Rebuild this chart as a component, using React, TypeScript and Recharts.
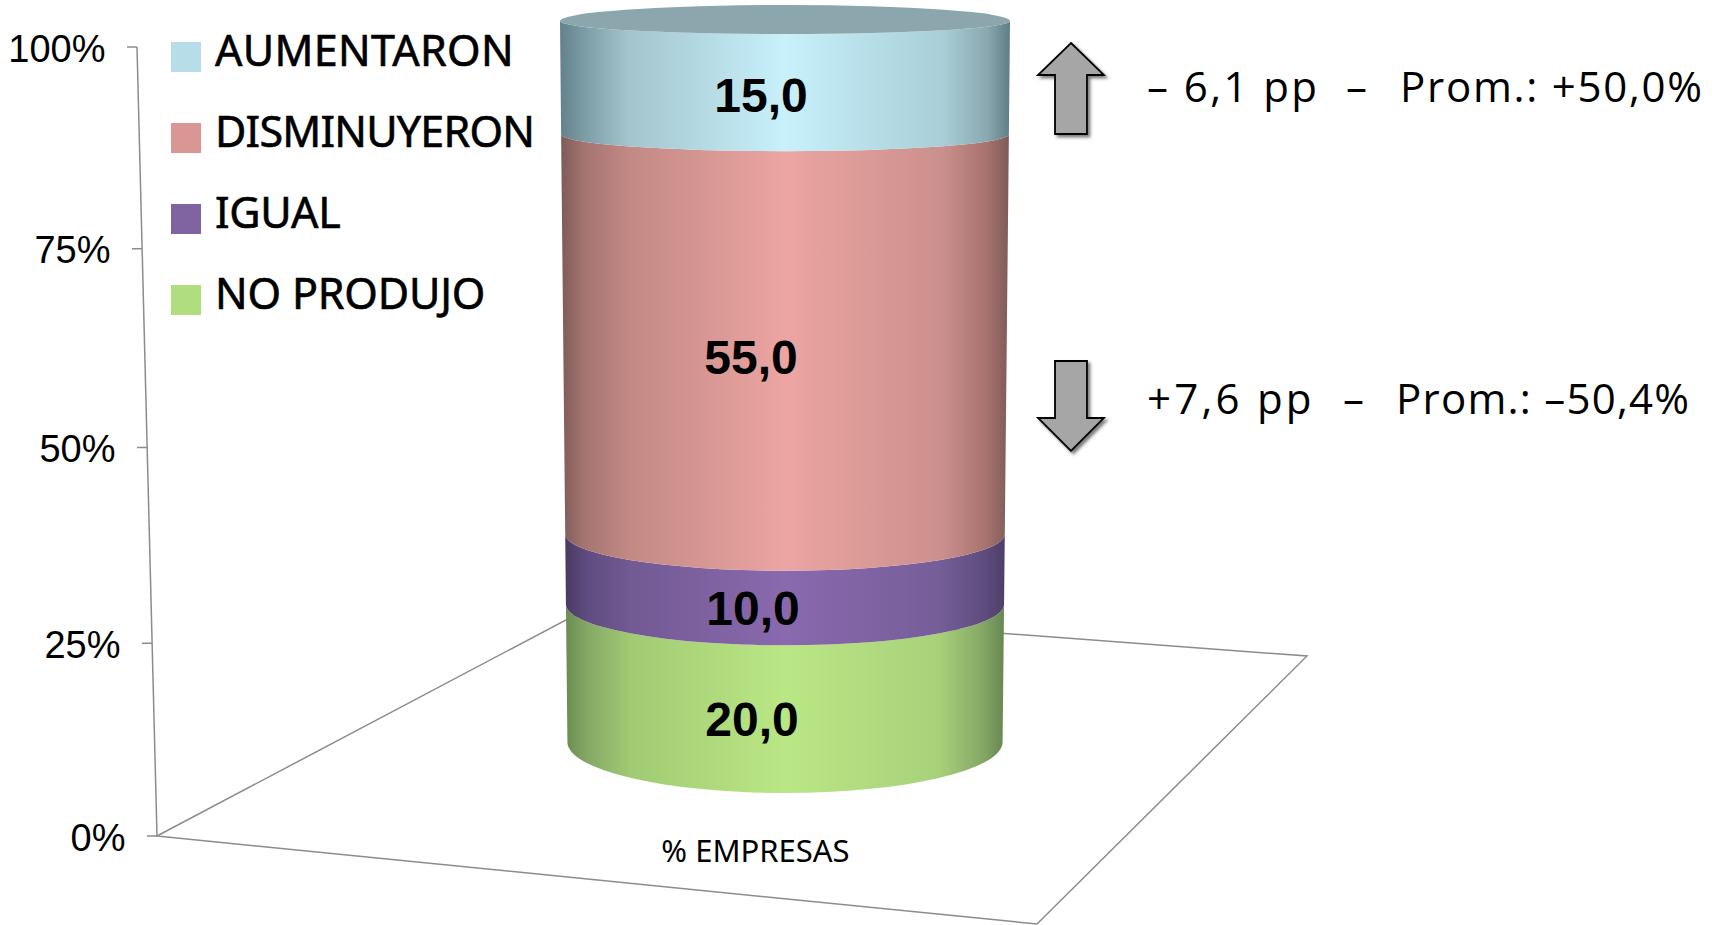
import React from "react";
import { BarChart, Bar, XAxis, YAxis, Legend, LabelList } from "recharts";

const category = ["% EMPRESAS"];
const noProdujo = [20.0];
const igual = [10.0];
const disminuyeron = [55.0];
const aumentaron = [15.0];
const yTicks = [0, 25, 50, 75, 100];
const noteUp = ["– 6,1 pp  –", "Prom.: +50,0%"];
const noteDown = ["+7,6 pp  –", "Prom.: –50,4%"];

const chartData = category.map((name, i) => ({
    name,
    "NO PRODUJO": noProdujo[i],
    "IGUAL": igual[i],
    "DISMINUYERON": disminuyeron[i],
    "AUMENTARON": aumentaron[i],
}));

const WIDTH = 1721;
const HEIGHT = 925;
const PLOT_TOP = 47;
const PLOT_BOTTOM = 836;

const AXIS_GREY = "#8c8c8c";
const SANS = "'Noto Sans', sans-serif";
const ARIAL = "'Liberation Sans', Arial, sans-serif";
const NOTE_FONT = "'Open Sans', sans-serif";

// share of the axis (0 at the floor, 1 at the top) for a pixel given by the y scale
const shareOf = (y: number) => (PLOT_BOTTOM - y) / (PLOT_BOTTOM - PLOT_TOP);

// the original is a 3D cylinder, so heights are bent a little by perspective
const edgeY = (t: number) => 742 - 721 * t + 40 * t * (1 - t);
const radiusY = (t: number) => 51 - 38 * t - 14 * t * (1 - t);
const widthScale = (t: number) => 0.967 + 0.033 * t;

const stops: Record<string, string[]> = {
    green: ["#6a8c50", "#86a866", "#a1cb73", "#bae785", "#a8d17a", "#86a866", "#678750"],
    purple: ["#493a61", "#5f4c80", "#725a93", "#8a69ae", "#765e99", "#5f4d7f", "#4e3f68"],
    red: ["#7e5b58", "#a47370", "#c28985", "#eca5a2", "#cb908d", "#a8726f", "#7e5b58"],
    blue: ["#62818a", "#7b9ba4", "#a3c4cd", "#c8f1fb", "#a9ced7", "#8aa8b0", "#5f7d85"],
};
const stopOffsets = [0, 0.05, 0.15, 0.5, 0.85, 0.95, 1];

// Noto Sans is not quite the original face, so each legend word gets its own tracking
const legendTracking: Record<string, number> = {
    "AUMENTARON": 0.3,
    "DISMINUYERON": -0.78,
    "IGUAL": -0.3,
    "NO PRODUJO": -0.17,
};

const CylinderBand = (props: any) => {
    const { x, y, width, height, gradient, cap } = props;
    const cx = x + width / 2;
    const tTop = shareOf(y);
    const tBottom = shareOf(y + height);
    const hwTop = (width / 2) * widthScale(tTop);
    const hwBottom = (width / 2) * widthScale(tBottom);
    const yTop = edgeY(tTop);
    const yBottom = edgeY(tBottom);
    const rTop = radiusY(tTop);
    const rBottom = radiusY(tBottom);
    const d = `M${cx - hwTop},${yTop} A${hwTop},${rTop} 0 0 0 ${cx + hwTop},${yTop}`
        + ` L${cx + hwBottom},${yBottom} A${hwBottom},${rBottom} 0 0 1 ${cx - hwBottom},${yBottom} Z`;
    return (
        <g>
            <path d={d} fill={`url(#${gradient})`} />
            {cap && (
                <path
                    d={`M${cx - hwTop},${yTop} A${hwTop},${rTop + 3} 0 0 1 ${cx + hwTop},${yTop} A${hwTop},${rTop} 0 0 1 ${cx - hwTop},${yTop} Z`}
                    fill="#8ba7ad"
                />
            )}
        </g>
    );
};

const bandLabel = (shiftX: number, shiftY: number) => (props: any) => {
    const { x, y, width, height, value } = props;
    const t0 = shareOf(y);
    const t1 = shareOf(y + height);
    const mid = (edgeY(t0) + radiusY(t0) + edgeY(t1) + radiusY(t1)) / 2;
    return (
        <text x={x + width / 2 + shiftX} y={mid + shiftY} dy="0.36em" textAnchor="middle"
            fontFamily={ARIAL} fontWeight="bold" fontSize={48} fill="#000">
            {Number(value).toFixed(1).replace(".", ",")}
        </text>
    );
};

const PercentTick = (props: any) => {
    const { y, payload } = props;
    const t = shareOf(y);
    // axis wall leans to the right towards the floor
    const axisX = 137 + 20 * (1 - t);
    const py = y + 24 * t * (1 - t);
    return (
        <g>
            <line x1={axisX - 10} y1={py} x2={axisX} y2={py} stroke={AXIS_GREY} strokeWidth={1.5} />
            <text x={axisX - 31.5} y={py + 1} dy="0.36em" textAnchor="end" fontFamily={ARIAL} fontSize={38} fill="#000">
                {payload.value}%
            </text>
        </g>
    );
};

const CategoryTick = (props: any) => {
    const { x, payload } = props;
    return (
        <text x={x - 29.5} y={851} dy="0.36em" textAnchor="middle" fontFamily={SANS} fontSize={31} fill="#000">
            {payload.value}
        </text>
    );
};

const LegendList = (props: any) => {
    const items = props.payload || [];
    return (
        <div style={{ fontFamily: SANS, fontSize: 43, color: "#000", WebkitTextStroke: "0.6px #000" }}>
            {items.map((item: any) => (
                <div key={item.value} style={{ position: "relative", height: 81, width: 360 }}>
                    <span style={{ position: "absolute", left: 0, top: 0, width: 30, height: 30, background: item.payload.legendColor }} />
                    <span style={{ position: "absolute", left: 44, top: -21, lineHeight: "58px", whiteSpace: "nowrap", letterSpacing: legendTracking[item.value] }}>{item.value}</span>
                </div>
            ))}
        </div>
    );
};

const Arrow = ({ points }: { points: string }) => (
    <polygon points={points} fill="#a6a6a6" stroke="#000" strokeWidth={1.8} filter="url(#arrowShadow)" />
);

const Note = ({ x, y, length, children }: any) => (
    <text x={x} y={y} fontFamily={NOTE_FONT} fontSize={42} fill="#000" textLength={length} lengthAdjust="spacing" xmlSpace="preserve">
        {children}
    </text>
);

export default function App() {
    return (
        <div style={{ position: "absolute", left: 0, top: 0, width: WIDTH, height: HEIGHT, overflow: "hidden", background: "#fff" }}>
            <BarChart
                width={WIDTH}
                height={HEIGHT}
                data={chartData}
                barSize={450}
                margin={{ top: PLOT_TOP, right: 308, left: 0, bottom: 0 }}
            >
                <defs>
                    {Object.keys(stops).map((key) => (
                        <linearGradient key={key} id={`band-${key}`} x1="0" y1="0" x2="1" y2="0">
                            {stops[key].map((color, i) => (
                                <stop key={i} offset={stopOffsets[i]} stopColor={color} />
                            ))}
                        </linearGradient>
                    ))}
                    <filter id="arrowShadow" x="-30%" y="-30%" width="160%" height="160%">
                        <feDropShadow dx={2.5} dy={2.5} stdDeviation={1.5} floodColor="#444" floodOpacity={0.7} />
                    </filter>
                </defs>

                {/* floor and leaning wall of the 3D frame */}
                <polygon points="157,836 598,603 1307,656 1037,924" fill="none" stroke={AXIS_GREY} strokeWidth={1.5} />
                <line x1={137} y1={47} x2={157} y2={836} stroke={AXIS_GREY} strokeWidth={1.5} />

                <XAxis dataKey="name" height={89} axisLine={false} tickLine={false} tick={<CategoryTick />} />
                <YAxis
                    width={157}
                    domain={[0, 100]}
                    ticks={yTicks}
                    axisLine={false}
                    tickLine={false}
                    tick={<PercentTick />}
                />
                {/* centred + middle keeps the legend from taking room away from the plot */}
                <Legend
                    content={<LegendList />}
                    layout="vertical"
                    verticalAlign="middle"
                    align="center"
                    wrapperStyle={{ left: 171, top: 42, width: 360 }}
                />
                <Bar dataKey="NO PRODUJO" stackId="a" fill="#b0de7e" legendColor="#b0de7e" isAnimationActive={false}
                    shape={(p: any) => <CylinderBand {...p} gradient="band-green" />}>
                    <LabelList dataKey="NO PRODUJO" content={bandLabel(-33, 0)} />
                </Bar>
                <Bar dataKey="IGUAL" stackId="a" fill="#8064a2" legendColor="#8064a2" isAnimationActive={false}
                    shape={(p: any) => <CylinderBand {...p} gradient="band-purple" />}>
                    <LabelList dataKey="IGUAL" content={bandLabel(-32, 0)} />
                </Bar>
                <Bar dataKey="DISMINUYERON" stackId="a" fill="#d99694" legendColor="#d99694" isAnimationActive={false}
                    shape={(p: any) => <CylinderBand {...p} gradient="band-red" />}>
                    <LabelList dataKey="DISMINUYERON" content={bandLabel(-34, -4)} />
                </Bar>
                <Bar dataKey="AUMENTARON" stackId="a" fill="#b7dde8" legendColor="#b7dde8" isAnimationActive={false}
                    shape={(p: any) => <CylinderBand {...p} gradient="band-blue" cap />}>
                    <LabelList dataKey="AUMENTARON" content={bandLabel(-24, 2)} />
                </Bar>

                <Arrow points="1071,43 1104,75 1087,75 1087,134 1055,134 1055,75 1038,75" />
                <Arrow points="1055,361 1087,361 1087,418 1104,418 1071,451 1038,418 1055,418" />
                <Note x={1147} y={102} length={220}>{noteUp[0]}</Note>
                <Note x={1400} y={102} length={302}>{noteUp[1]}</Note>
                <Note x={1147} y={414} length={217}>{noteDown[0]}</Note>
                <Note x={1396} y={414} length={293}>{noteDown[1]}</Note>
            </BarChart>
        </div>
    );
}
